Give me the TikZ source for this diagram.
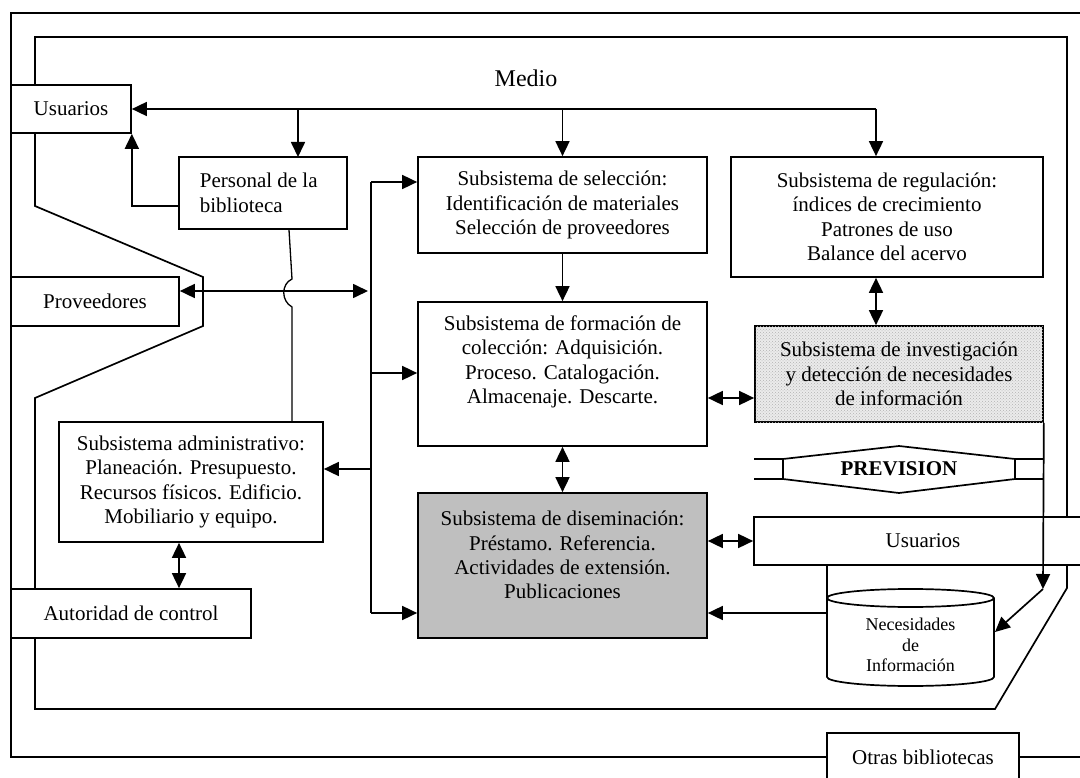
\documentclass[tikz,border=0pt]{standalone}
\usepackage{fontspec}
\setmainfont{Liberation Serif}
\usetikzlibrary{arrows.meta,patterns}

\begin{document}
\begin{tikzpicture}[x=1pt,y=-1pt,
  line width=1.7pt,
  >={Triangle[length=15pt,width=14pt]},
  box/.style={draw, fill=white, inner sep=0pt, align=center,
    font=\fontsize{21}{24.4}\selectfont},
  txt/.style={inner sep=0pt, align=center, font=\fontsize{21}{24.4}\selectfont},
  small/.style={inner sep=0pt, align=center, font=\fontsize{18}{20.5}\selectfont},
]
\clip (0,0) rectangle (1080,778);

% environment frames
\draw (1090,13) -- (11,13) -- (11,757) -- (1090,757);
\draw (35,37) -- (1067,37) -- (1067,588) -- (995,709) -- (35,709) -- (35,398)
  -- (203,326) -- (203,277) -- (35,206) -- cycle;

\node[inner sep=0pt, font=\fontsize{24}{28}\selectfont] (medio) at (526,78) {Medio};

% outside agents
\node[box, minimum width=120pt, minimum height=48pt] (usuL) at (71,109) {Usuarios};
\node[box, minimum width=168pt, minimum height=49pt] (prov) at (95,301.5) {Proveedores};
\node[box, minimum width=240pt, minimum height=49pt] (aut) at (131,613.5) {Autoridad de control};
\node[box, minimum width=192pt, minimum height=48pt] (otras) at (923,757) {Otras bibliotecas};

% library
\node[box, minimum width=168pt, minimum height=72pt] (pers) at (263,193) {};
\node[txt, anchor=west, align=left] (persT) at (199,193) {Personal de la\\biblioteca};
\node[box, minimum width=264pt, minimum height=120pt] (adm) at (191,482)
  {Subsistema administrativo:\\Planeación. Presupuesto.\\Recursos físicos. Edificio.\\Mobiliario y equipo.};
\node[box, minimum width=289pt, minimum height=96pt] (sel) at (562.5,205)
  {Subsistema de selección:\\Identificación de materiales\\Selección de proveedores};
\node[box, minimum width=312pt, minimum height=120pt] (reg) at (887,217)
  {Subsistema de regulación:\\índices de crecimiento\\Patrones de uso\\Balance del acervo};
\node[box, minimum width=289pt, minimum height=144pt] (form) at (562.5,374) {};
\node[txt] (formT) at (562.5,362)
  {Subsistema de formación de\\colección: Adquisición.\\Proceso. Catalogación.\\Almacenaje. Descarte.};
\node[box, fill=black!8, postaction={pattern=crosshatch dots, pattern color=black!30},
  minimum width=288pt, minimum height=96pt] (inv) at (899,374)
  {Subsistema de investigación\\y detección de necesidades\\de información};
\node[box, fill=black!25, minimum width=289pt, minimum height=145pt] (dis) at (562.5,565.5) {};
\node[txt] (disT) at (562.5,555)
  {Subsistema de diseminación:\\Préstamo. Referencia.\\Actividades de extensión.\\Publicaciones};
\node[box, minimum width=346pt, minimum height=48pt] (usuR) at (927,541) {};
\node[txt] (usuRT) at (923,541) {Usuarios};

% forecast banner
\draw (754,459) -- (783,459) -- (899,446) -- (1015,459) -- (1043,459);
\draw (754,479) -- (783,479) -- (899,493) -- (1015,479) -- (1043,479);
\draw (783,459) -- (783,479) (1015,459) -- (1015,479);
\node[inner sep=0pt, font=\fontsize{21}{24}\selectfont\bfseries] (prev) at (899,469) {PREVISION};

% information needs store
\draw[fill=white] (827,598) -- (827,677)
  arc[start angle=180, end angle=0, x radius=83.5, y radius=9] -- (994,598)
  arc[start angle=0, end angle=-180, x radius=83.5, y radius=9] -- cycle;
\draw (827,598) arc[start angle=180, end angle=0, x radius=83.5, y radius=9];
\node[small] (cylT) at (910.5,645) {Necesidades\\de\\Información};
\coordinate (cylR) at (995,632);

% user feedback line
\coordinate (topJ) at (876,109);
\coordinate (persIn) at (298,157);
\draw[->] (topJ) -- (usuL.east);
\draw[->] (topJ) -- (reg.north -| topJ);
\draw[->] (sel.north |- topJ) -- (sel.north);
\draw[->] (persIn |- topJ) -- (persIn);
\draw[->] (pers.west |- 0,206) -| (usuL.south east);

% collection flow
\draw[->] (sel.south) -- (form.north);
\draw[<->] (reg.south -| topJ) -- (inv.north -| topJ);
\draw[<->] (form.east |- 0,398) -- (inv.west |- 0,398);
\draw[<->] (form.south) -- (dis.north);
\draw[<->] (dis.east |- usuR.west) -- (usuR.west);
\draw[->] (usuR.south -| 827,0) |- (dis.east |- 0,613);

% research to needs
\coordinate (bend) at (1043,589);
\draw[->] (inv.south east) -- (bend);
\draw[->] (bend) -- (cylR);

% administrative bus
\coordinate (busT) at (371,182);
\coordinate (busB) at (371,613);
\coordinate (provEnd) at (368,291);
\draw (busT) -- (busB);
\draw[->] (busT) -- (sel.west |- busT);
\draw[->] (busT |- 0,373) -- (form.west |- 0,373);
\draw[->] (busB) -- (dis.west |- busB);
\draw[->] (busT |- 0,469) -- (adm.east |- 0,469);
\draw[<->] (prov.east |- provEnd) -- (provEnd);
\draw[<->] (adm.south -| 179,0) -- (aut.north -| 179,0);

% staff to administration, hopping over the supplier line
\draw[line width=1.3pt] (pers.south -| 289,0) -- (292,279)
  .. controls (281,284) and (281,301) .. (292,307) -- (adm.north -| 292,0);
\end{tikzpicture}
\end{document}
